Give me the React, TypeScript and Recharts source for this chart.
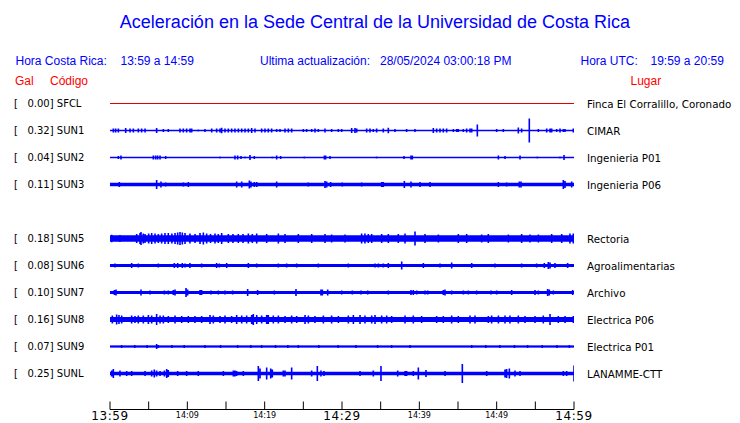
import { ComposedChart, Area, Line, XAxis, YAxis } from 'recharts';

// station rows (SUN4 row is empty in the reference)
const codes = ['SFCL', 'SUN1', 'SUN2', 'SUN3', 'SUN5', 'SUN6', 'SUN7', 'SUN8', 'SUN9', 'SUNL'];
const rowSlots = [0, 1, 2, 3, 5, 6, 7, 8, 9, 10];
const peakGal = [0.0, 0.32, 0.04, 0.11, 0.18, 0.08, 0.1, 0.16, 0.07, 0.25];
const places = [
  'Finca El Corralillo, Coronado',
  'CIMAR',
  'Ingenieria P01',
  'Ingenieria P06',
  'Rectoria',
  'Agroalimentarias',
  'Archivo',
  'Electrica P06',
  'Electrica P01',
  'LANAMME-CTT',
];
// steady noise half-band of each trace
const noiseLevel = [0, 0.5, 0.5, 1.7, 3.2, 1.5, 1.5, 2.5, 1.1, 1.8];

// bursts: [minutes after 13:59, half amplitude]
const sfclSpikes: [number, number][] = [];
const sun1Spikes: [number, number][] = [
  [0.43, 2], [0.73, 2], [1.08, 2], [2.03, 2.5], [2.59, 2], [3.02, 2], [3.66, 2], [4.09, 2], [4.53, 2],
  [6.03, 2.5], [6.9, 1.5], [7.54, 1.5], [9.05, 2], [9.48, 2], [9.91, 2], [10.34, 2], [10.56, 2], [11.42, 1],
  [12.28, 1.5], [13.15, 2], [13.79, 2], [14.22, 2], [14.44, 2.7], [14.87, 2], [15.3, 2], [15.73, 2], [16.16, 2],
  [16.6, 2], [17.03, 2], [17.46, 2], [17.89, 2], [18.32, 2.5], [18.75, 2], [19.61, 2], [20.04, 2], [20.47, 2],
  [20.9, 2], [21.55, 1.5], [21.98, 1.5], [22.63, 2], [23.06, 2], [23.49, 2], [25.0, 1.5], [25.43, 1.5],
  [26.08, 1.5], [26.51, 2], [26.94, 1.5], [27.8, 2], [28.66, 1.5], [29.53, 1.5], [29.96, 1.5], [31.25, 2.5],
  [31.68, 2.5], [31.9, 2], [33.19, 2], [33.62, 2], [34.05, 1.5], [34.48, 2], [35.34, 2], [35.99, 2.8],
  [36.85, 1.5], [38.36, 1.5], [39.44, 1.5], [41.81, 2.5], [42.24, 2], [42.67, 2], [43.1, 2], [43.53, 2],
  [44.4, 1.5], [44.83, 1.5], [45.04, 1.5], [45.69, 1.5], [46.12, 2], [46.55, 2], [46.77, 2], [47.5, 6],
  [50.0, 1.5], [50.86, 1.5], [52.8, 3], [53.23, 2], [54.22, 12], [55.39, 1.5], [56.47, 2], [56.9, 2],
  [57.11, 2], [57.76, 1.5], [58.19, 2], [58.62, 1.5], [58.84, 1.5], [59.91, 2],
];
const sun2Spikes: [number, number][] = [
  [1.08, 1.5], [1.42, 2], [5.6, 2], [5.9, 2], [6.16, 2], [6.47, 2], [7.2, 1.5], [14.22, 1], [16.16, 2],
  [16.51, 2], [16.94, 1.5], [17.46, 1], [18.1, 2.5], [18.66, 1.5], [20.99, 1], [21.55, 2], [22.07, 1.5],
  [25.13, 1], [27.72, 2], [27.89, 2], [28.45, 1.5], [34.48, 1], [38.02, 1.5], [38.92, 2], [39.09, 2],
  [50.22, 2], [51.08, 1.5], [53.02, 2], [55.26, 1], [58.19, 1], [58.71, 2.5],
];
const sun3Spikes: [number, number][] = [
  [1.21, 2.5], [6.03, 4.5], [6.59, 3], [7.2, 2], [9.48, 2], [10.13, 2.5], [16.38, 3], [17.03, 3], [18.02, 4],
  [18.23, 3], [18.66, 2.5], [18.97, 2.5], [21.55, 3], [25.65, 2], [27.8, 3.5], [28.02, 3], [28.53, 2.5],
  [30.04, 2], [32.54, 2], [35.13, 2.5], [35.34, 2.5], [38.06, 3.5], [38.92, 3], [40.09, 2.5], [41.38, 2.5],
  [50.22, 2.5], [51.29, 2], [52.93, 3], [53.15, 3], [58.62, 4.5], [58.84, 3.5], [59.7, 3],
];
const sun5Spikes: [number, number][] = [
  [0.22, 3.8], [1.29, 3.5], [3.45, 4.5], [3.88, 5.5], [4.01, 6.5], [4.3, 5], [4.53, 4.5], [5.0, 5], [5.39, 5.5],
  [5.82, 5], [6.25, 4.5], [6.68, 5], [7.11, 5.5], [7.54, 5.5], [8.0, 5], [8.41, 5.5], [8.75, 6], [9.05, 6.5],
  [9.35, 6], [9.7, 5.5], [10.34, 5], [11.0, 4.5], [11.64, 5.5], [12.07, 6], [12.5, 5], [13.0, 4.5], [13.58, 5],
  [14.0, 4.5], [14.44, 5.5], [15.3, 4.5], [15.9, 4.5], [16.59, 4.5], [17.2, 4.5], [17.89, 5], [18.4, 4.5],
  [18.97, 5], [20.26, 4.5], [21.77, 5], [22.63, 4.5], [24.35, 4.5], [26.08, 4.5], [27.8, 4.5], [28.66, 4],
  [30.39, 4], [32.54, 5], [32.97, 5], [33.4, 4.5], [33.84, 4.5], [35.13, 4.5], [35.99, 4.5], [37.28, 4.5],
  [38.15, 5], [39.44, 7], [40.73, 4.5], [42.46, 4], [45.04, 4.5], [46.12, 4.5], [48.06, 4], [48.92, 4.5],
  [51.51, 4], [53.23, 4.5], [54.31, 4], [55.39, 4], [57.11, 4.5], [58.41, 4.5], [59.48, 5], [59.91, 5],
];
const sun6Spikes: [number, number][] = [
  [0.65, 2], [2.8, 2.5], [3.66, 2], [6.25, 2], [8.32, 2.5], [8.75, 2.5], [9.35, 2.5], [9.7, 2], [10.34, 2.5],
  [11.85, 2], [13.79, 2.5], [14.14, 2], [15.09, 2.5], [17.89, 2.5], [18.97, 2], [21.77, 2], [22.84, 2],
  [24.14, 2], [26.94, 2], [30.82, 2], [34.27, 2], [34.7, 2], [35.34, 2], [35.99, 2.5], [37.72, 4], [40.52, 2.5],
  [42.67, 2], [44.18, 3], [46.77, 2.5], [49.78, 2], [53.23, 2], [55.17, 2], [56.16, 2.5], [56.68, 3.5],
  [56.9, 3], [57.54, 2.5], [59.18, 2.5],
];
const sun7Spikes: [number, number][] = [
  [0.56, 2.5], [0.78, 3], [4.01, 3], [5.17, 2], [7.03, 2], [7.54, 2], [8.19, 2.5], [8.41, 3], [9.83, 4.5],
  [10.04, 3], [11.64, 2.5], [11.85, 2.5], [13.06, 2], [14.01, 2], [14.87, 2], [15.86, 2], [17.8, 3.5],
  [19.09, 2.5], [21.25, 2], [24.05, 3.5], [27.28, 3], [27.46, 3], [28.15, 3], [29.96, 2], [31.34, 2],
  [32.46, 2], [33.32, 2], [35.99, 2], [38.92, 2.5], [39.22, 2.5], [39.66, 2], [40.73, 2], [41.08, 2],
  [43.1, 2.5], [43.32, 3], [44.18, 2], [45.69, 2], [46.34, 2], [47.41, 2], [49.27, 2], [50.0, 2], [51.94, 2.5],
  [54.96, 2.5], [55.39, 2], [56.59, 3.5], [56.81, 3], [57.33, 2], [59.83, 2.5],
];
const sun8Spikes: [number, number][] = [
  [0.3, 4], [0.86, 5], [1.16, 4.5], [1.51, 4], [2.8, 4], [3.23, 3.5], [3.66, 4], [4.31, 4], [4.96, 4.5],
  [5.39, 4], [6.03, 5.5], [6.47, 4], [6.9, 4], [7.54, 3.5], [8.41, 4], [9.27, 3.5], [10.13, 3.5], [10.99, 3.5],
  [11.85, 3.5], [12.93, 4.5], [13.36, 4], [14.22, 3.5], [14.87, 4], [15.73, 3.5], [16.38, 4.5], [17.03, 4],
  [17.67, 4], [18.32, 4.5], [18.53, 5.5], [18.97, 4.5], [19.61, 4], [20.26, 4.5], [20.47, 4.5], [21.12, 4],
  [21.77, 4], [22.63, 3.5], [23.49, 4], [24.14, 3.5], [25.22, 4.5], [25.65, 4], [26.51, 3.5], [27.59, 4],
  [28.66, 4], [29.53, 3.5], [30.82, 4], [31.47, 4.5], [32.33, 4.5], [32.97, 4], [33.84, 4], [34.27, 4.5],
  [35.13, 4], [35.78, 4], [36.42, 3.5], [38.15, 4], [39.22, 4], [40.3, 3.5], [42.24, 3.5], [43.1, 3.5],
  [44.18, 4], [45.04, 3.5], [46.55, 4], [47.2, 4], [48.92, 3.5], [49.35, 4], [50.22, 4], [51.08, 4],
  [51.72, 4], [52.8, 4], [53.66, 3.5], [54.96, 3.5], [56.03, 4], [56.9, 5.5], [57.97, 3.5], [58.84, 3.5],
  [59.91, 3.5],
];
const sun9Spikes: [number, number][] = [
  [1.5, 1.5], [3.2, 1.5], [4.8, 1.5], [6.03, 2.5], [6.25, 1.5], [8.0, 1.5], [9.6, 1.5], [12.28, 1.5],
  [14.3, 1.5], [16.5, 1.5], [18.2, 1.5], [19.61, 1.5], [21.4, 1.5], [23.0, 1.5], [24.35, 1.5], [27.0, 1.5],
  [29.5, 1.5], [31.8, 1.5], [34.6, 1.5], [36.42, 1.5], [38.8, 1.5], [46.77, 1.5], [48.6, 1.5], [50.4, 1.5],
  [52.3, 1.5], [54.0, 1.5], [55.9, 1.5], [57.8, 1.5], [59.4, 1.5],
];
const sunlSpikes: [number, number][] = [
  [0.22, 3], [0.43, 4.5], [1.29, 3], [2.16, 2.5], [2.8, 2.5], [4.53, 2.5], [5.39, 3], [5.73, 4], [6.03, 3],
  [6.47, 2.5], [7.03, 3], [7.33, 4.5], [7.54, 3.5], [8.75, 2.5], [9.91, 2.5], [11.42, 2.5], [14.66, 2.5],
  [15.95, 3], [16.16, 3], [16.38, 2.5], [17.24, 2.5], [19.18, 7.5], [19.4, 5], [20.26, 6], [20.78, 5],
  [20.99, 4], [22.41, 3], [22.63, 3], [23.49, 6], [26.08, 3], [26.81, 7.5], [27.28, 3], [27.67, 2.5],
  [32.33, 2.5], [34.05, 3], [35.04, 7.5], [37.2, 3], [38.15, 2.5], [38.36, 2.5], [39.22, 2.5], [39.87, 6],
  [40.86, 3.5], [43.32, 2.5], [45.56, 9.5], [48.71, 2.5], [51.08, 4], [51.29, 4.5], [51.64, 5], [52.37, 3],
  [53.02, 2.5], [58.62, 2.5], [59.05, 2.5], [60, 8],
];
const spikes = [sfclSpikes, sun1Spikes, sun2Spikes, sun3Spikes, sun5Spikes, sun6Spikes, sun7Spikes, sun8Spikes, sun9Spikes, sunlSpikes];

const timeTicks = [0, 5, 10, 15, 20, 25, 30, 35, 40, 45, 50, 55, 60];
const timeLabels: Record<number, string> = {
  0: '13:59', 10: '14:09', 20: '14:19', 30: '14:29', 40: '14:39', 50: '14:49', 60: '14:59',
};
const majorTimes = [0, 30, 60];

const ROW = 27;
const BLUE = '#0000ff';
const RED = '#ff0000';
const SANS = "'Liberation Sans', Arial, sans-serif";
const DEJAVU = "'DejaVu Sans', sans-serif";

const rowTicks = rowSlots.map((s) => -ROW * s);

const bandData = (i: number) => {
  const off = -ROW * rowSlots[i];
  const b = noiseLevel[i];
  return [
    { t: 0, band: [off - b, off + b] },
    { t: 60, band: [off - b, off + b] },
  ];
};

const traceData = (i: number) => {
  const off = -ROW * rowSlots[i];
  const pts: { t: number; y: number }[] = [{ t: 0, y: off }];
  spikes[i].forEach(([t, a]) => {
    pts.push({ t, y: off }, { t, y: off + a }, { t, y: off - a }, { t, y: off });
  });
  pts.push({ t: 60, y: off });
  return pts;
};

const TimeTick = (props: any) => {
  const { x, y, payload } = props;
  const label = timeLabels[payload.value];
  if (!label) return null;
  const major = majorTimes.includes(payload.value);
  return (
    <text
      x={x}
      y={y + (major ? 18.5 : 16)}
      textAnchor="middle"
      fontFamily={DEJAVU}
      fontSize={major ? 12 : 8}
      letterSpacing={major ? 0.6 : 0}
      fill="#000"
    >
      {label}
    </text>
  );
};

const CodeTick = (props: any) => {
  const { y, payload } = props;
  const i = rowTicks.indexOf(payload.value);
  if (i < 0) return null;
  return (
    <text x={14} y={y} dominantBaseline="central" fontFamily={DEJAVU} fontSize={10} fill="#000" style={{ whiteSpace: 'pre' }}>
      {`[   ${peakGal[i].toFixed(2)}] ${codes[i]}`}
    </text>
  );
};

const PlaceTick = (props: any) => {
  const { y, payload } = props;
  const i = rowTicks.indexOf(payload.value);
  if (i < 0) return null;
  return (
    <text x={587} y={y} dominantBaseline="central" fontFamily={DEJAVU} fontSize={10.3} fill="#000">
      {places[i]}
    </text>
  );
};

export default function App() {
  return (
    <div style={{ position: 'absolute', left: 0, top: 0, width: 740, height: 423, background: '#fff' }}>
      <ComposedChart width={740} height={423} margin={{ top: 90, right: 0, bottom: 0, left: 0 }}>
        <XAxis
          type="number"
          dataKey="t"
          domain={[0, 60]}
          ticks={timeTicks}
          interval={0}
          height={13.5}
          tickSize={-8}
          tickMargin={0}
          stroke="#000"
          tick={<TimeTick />}
          allowDataOverflow
        />
        <YAxis
          yAxisId="left"
          type="number"
          domain={[-306, 13.5]}
          ticks={rowTicks}
          interval={0}
          width={110}
          axisLine={false}
          tickLine={false}
          tick={<CodeTick />}
          allowDataOverflow
        />
        <YAxis
          yAxisId="right"
          orientation="right"
          type="number"
          domain={[-306, 13.5]}
          ticks={rowTicks}
          interval={0}
          width={166}
          axisLine={false}
          tickLine={false}
          tick={<PlaceTick />}
          allowDataOverflow
        />
        {codes.map((c, i) =>
          i === 0 ? null : (
            <Area
              key={`band-${c}`}
              yAxisId="left"
              data={bandData(i)}
              dataKey="band"
              type="linear"
              stroke="none"
              fill={BLUE}
              fillOpacity={1}
              isAnimationActive={false}
            />
          )
        )}
        {codes.map((c, i) => (
          <Line
            key={`trace-${c}`}
            yAxisId="left"
            data={traceData(i)}
            dataKey="y"
            type="linear"
            stroke={i === 0 ? '#e00000' : BLUE}
            strokeWidth={i === 0 ? 1 : 1.6}
            dot={false}
            activeDot={false}
            isAnimationActive={false}
          />
        ))}
      </ComposedChart>
      <svg width={740} height={423} style={{ position: 'absolute', left: 0, top: 0, pointerEvents: 'none' }}>
        <text x={375} y={28} textAnchor="middle" fontFamily={SANS} fontSize={18} fill={BLUE}>
          Aceleración en la Sede Central de la Universidad de Costa Rica
        </text>
        <g fontFamily={SANS} fontSize={12} fill={BLUE}>
          <text x={15.5} y={65}>Hora Costa Rica:</text>
          <text x={120.5} y={65}>13:59 a 14:59</text>
          <text x={260} y={65}>Ultima actualización:</text>
          <text x={380} y={65}>28/05/2024 03:00:18 PM</text>
          <text x={580.5} y={65}>Hora UTC:</text>
          <text x={650.5} y={65}>19:59 a 20:59</text>
        </g>
        <g fontFamily={SANS} fontSize={12} fill={RED}>
          <text x={15} y={85}>Gal</text>
          <text x={50} y={85}>Código</text>
          <text x={630.5} y={85}>Lugar</text>
        </g>
      </svg>
    </div>
  );
}
